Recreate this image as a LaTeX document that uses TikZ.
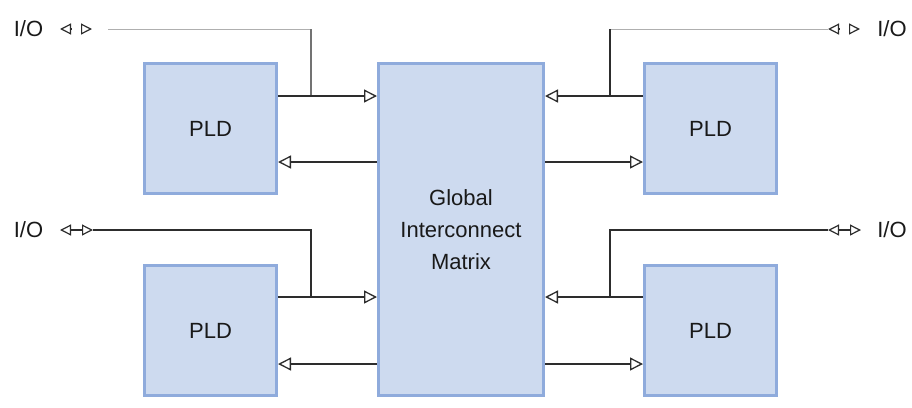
\documentclass[tikz,border=0pt]{standalone}
\usepackage{fontspec}
\setmainfont{Liberation Sans}
\usetikzlibrary{arrows.meta}
\definecolor{boxfill}{RGB}{205,218,239}
\definecolor{boxline}{RGB}{143,171,220}
\definecolor{wire}{RGB}{45,45,45}
\definecolor{lightwire}{RGB}{175,175,175}
\tikzset{
  blk/.style={draw=boxline, line width=3pt, fill=boxfill, inner sep=0pt,
    font=\fontsize{22}{32}\selectfont, text=black!90, align=center},
  pld/.style={blk, minimum width=132pt, minimum height=130pt},
  wireline/.style={draw=wire, line width=1.2pt},
  lightline/.style={draw=lightwire, line width=0.8pt},
  tip/.tip={Triangle[open, fill=white, length=13pt, width=13pt, line width=1.3pt]},
  smalltip/.tip={Triangle[open, fill=white, length=11pt, width=11pt, line width=1.2pt]},
  arr/.style={wireline, -tip},
  marker/.style={wireline, smalltip-smalltip},
  halfmarker/.style={wireline, -smalltip},
  iolabel/.style={font=\fontsize{22}{26}\selectfont, text=black!90, inner sep=0pt},
}
\begin{document}
\begin{tikzpicture}[x=1pt, y=-1pt]
\useasboundingbox (0,0) rectangle (912,407);

% blocks
\node[pld] (tl) at (210.5,128.5) {PLD};
\node[pld] (bl) at (210.5,330.5) {PLD};
\node[pld] (tr) at (710.5,128.5) {PLD};
\node[pld] (br) at (710.5,330.5) {PLD};
\node[blk, minimum width=165pt, minimum height=332pt] (gim) at (461,229.5)
  {Global\\Interconnect\\Matrix};

% I/O labels
\node[iolabel] (io1) at (28.5,29) {I/O};
\node[iolabel] (io2) at (28.5,230) {I/O};
\node[iolabel] (io3) at (892,29) {I/O};
\node[iolabel] (io4) at (892,230) {I/O};

% I/O markers
\coordinate (m1a) at (60,29);  \coordinate (m1c) at (71,29);
\coordinate (m1d) at (81,29);  \coordinate (m1b) at (92,29);
\coordinate (m2a) at (60,230); \coordinate (m2b) at (93,230);
\coordinate (m3a) at (828,29); \coordinate (m3c) at (839,29);
\coordinate (m3d) at (849,29); \coordinate (m3b) at (860,29);
\coordinate (m4a) at (828,230);\coordinate (m4b) at (861,230);
\draw[halfmarker] (m1c) -- (m1a);
\draw[halfmarker] (m1d) -- (m1b);
\draw[marker] (m2a) -- (m2b);
\draw[halfmarker] (m3d) -- (m3b);
\draw[halfmarker] (m3c) -- (m3a);
\draw[marker] (m4a) -- (m4b);

% junctions
\coordinate (j1) at (311,96);  \coordinate (k1) at (311,29);
\coordinate (j2) at (311,297); \coordinate (k2) at (311,230);
\coordinate (j3) at (610,96);  \coordinate (k3) at (610,29);
\coordinate (j4) at (610,297); \coordinate (k4) at (610,230);

% top-left
\draw[lightline] (m1b) ++(16,0) -- (k1);
\draw[wireline, draw=black!55] (k1) -- (j1);
\draw[arr] (tl.east |- j1) -- (gim.west |- j1);
\draw[arr] (gim.west |- 0,162) -- (tl.east |- 0,162);

% bottom-left
\draw[wireline] (m2b) -- (k2) -- (j2);
\draw[arr] (bl.east |- j2) -- (gim.west |- j2);
\draw[arr] (gim.west |- 0,364) -- (bl.east |- 0,364);

% top-right
\draw[lightline] (m3a) -- (k3);
\draw[wireline] (k3) -- (j3);
\draw[arr] (tr.west |- j3) -- (gim.east |- j3);
\draw[arr] (gim.east |- 0,162) -- (tr.west |- 0,162);

% bottom-right
\draw[wireline] (m4a) -- (k4) -- (j4);
\draw[arr] (br.west |- j4) -- (gim.east |- j4);
\draw[arr] (gim.east |- 0,364) -- (br.west |- 0,364);
\end{tikzpicture}
\end{document}
